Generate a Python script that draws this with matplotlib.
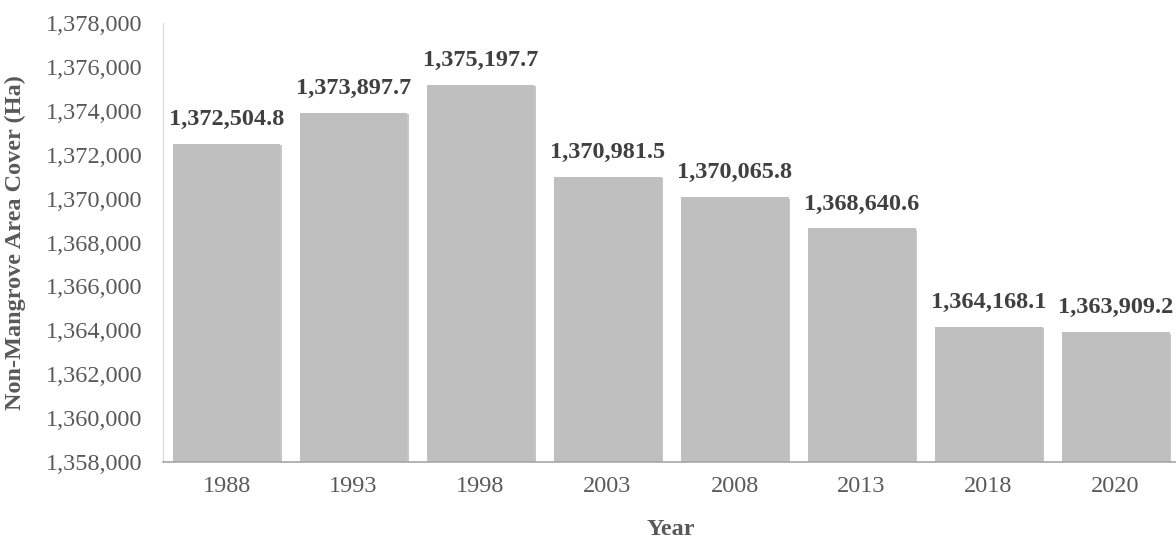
import numpy as np
import matplotlib.pyplot as plt
from matplotlib import patheffects as pe

## data
years = ['1988', '1993', '1998', '2003', '2008', '2013', '2018', '2020']
area = [1372504.8, 1373897.7, 1375197.7, 1370981.5, 1370065.8, 1368640.6, 1364168.1, 1363909.2]
y_ticks = np.arange(1358000, 1378001, 2000)

plt.rcParams['font.family'] = ['Liberation Serif', 'DejaVu Serif']

fig = plt.figure(figsize=(11.76, 5.41), dpi=100)
ax = fig.add_axes([0.1386, 0.146, 0.864, 0.8115])

x = np.arange(len(years))
bars = ax.bar(x, area, width=0.85, color='#BFBFBF', zorder=2)
for b in bars:
    b.set_path_effects([pe.SimplePatchShadow(offset=(1, -1), shadow_rgbFace='#A0A0A0', alpha=0.6), pe.Normal()])

# value labels
for xi, v in zip(x, area):
    ax.annotate(f'{v:,.1f}', (xi, v), xytext=(0, 10), textcoords='offset points',
                ha='center', va='bottom', fontsize=17.5, fontweight='bold', color='#404040')

ax.set_xlim(-0.5, len(years) - 0.5)
ax.set_ylim(1358000, 1378000)
ax.set_yticks(y_ticks)
ax.set_yticklabels([f'{t:,}' for t in y_ticks])
ax.set_xticks(x)
ax.set_xticklabels(years)
ax.tick_params(axis='both', length=0, labelsize=17.5, labelcolor='#595959')
ax.tick_params(axis='x', pad=10)
ax.tick_params(axis='y', pad=15)

for s in ['top', 'right']:
    ax.spines[s].set_visible(False)
ax.spines['left'].set_color('#D9D9D9')
ax.spines['bottom'].set_color('#A6A6A6')
ax.spines['bottom'].set_linewidth(1.2)

ax.set_xlabel('Year', fontsize=17.5, fontweight='bold', color='#595959', labelpad=16)
ax.set_ylabel('Non-Mangrove Area Cover (Ha)', fontsize=17.5, fontweight='bold', color='#595959', labelpad=14)

fig.savefig('out.png', dpi=100)
